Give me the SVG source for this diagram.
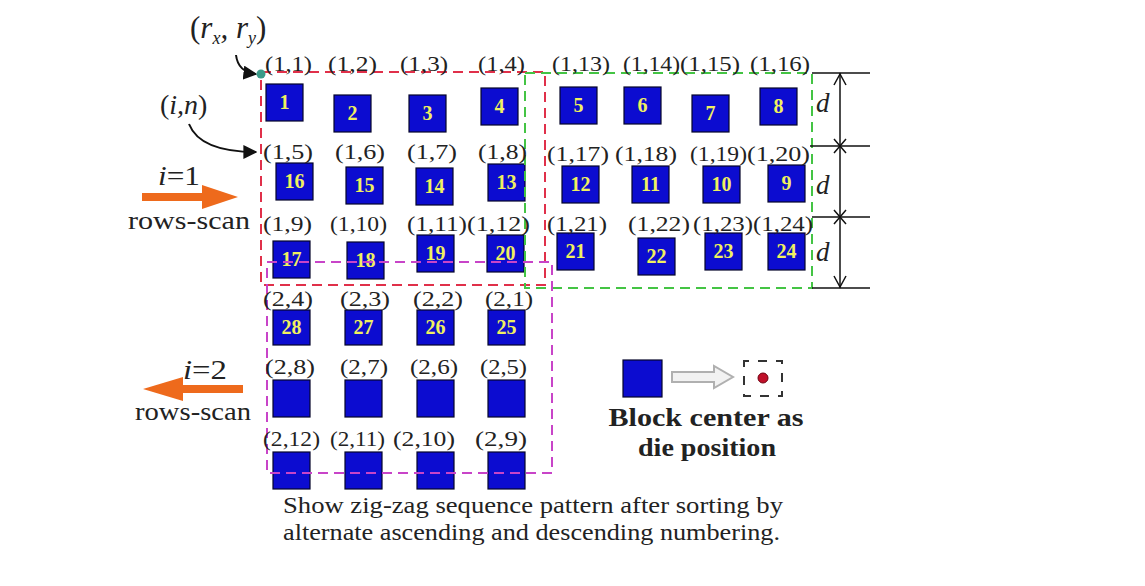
<svg xmlns="http://www.w3.org/2000/svg" width="1145" height="586" viewBox="0 0 1145 586">
<style>
.blk{fill:#0c0cd0;stroke:#05052a;stroke-width:1.2}
.num{font-family:"Liberation Serif",serif;font-weight:bold;font-size:20px;fill:#f0f060;text-anchor:middle}
.lab{font-family:"Liberation Serif",serif;font-size:22px;fill:#222}
.it{font-family:"Liberation Serif",serif;font-style:italic;fill:#222}
.txt{font-family:"Liberation Serif",serif;fill:#222}
.dim{stroke:#111;stroke-width:1.5;fill:none}
.box{fill:none;stroke-width:2;stroke-dasharray:10,6}
</style>
<defs>
<marker id="ah" viewBox="0 0 10 10" refX="9" refY="5" markerWidth="7" markerHeight="7" orient="auto">
<path d="M0,0 L10,5 L0,10 z" fill="#111"/>
</marker>
</defs>
<rect width="1145" height="586" fill="#ffffff"/>

<g id="blocks">
<g id="b1"><rect class="blk" x="266" y="84" width="37" height="37"/><text class="num" x="284.5" y="109">1</text></g>
<g id="b2"><rect class="blk" x="334" y="95" width="37" height="37"/><text class="num" x="352.5" y="120">2</text></g>
<g id="b3"><rect class="blk" x="409" y="95" width="37" height="37"/><text class="num" x="427.5" y="120">3</text></g>
<g id="b4"><rect class="blk" x="481" y="88" width="37" height="37"/><text class="num" x="499.5" y="113">4</text></g>
<g id="b5"><rect class="blk" x="560" y="87" width="37" height="37"/><text class="num" x="578.5" y="112">5</text></g>
<g id="b6"><rect class="blk" x="624" y="87" width="37" height="37"/><text class="num" x="642.5" y="112">6</text></g>
<g id="b7"><rect class="blk" x="692" y="95" width="37" height="37"/><text class="num" x="710.5" y="120">7</text></g>
<g id="b8"><rect class="blk" x="760" y="88" width="37" height="37"/><text class="num" x="778.5" y="113">8</text></g>

<g id="b16"><rect class="blk" x="276" y="163" width="37" height="37"/><text class="num" x="294.5" y="188">16</text></g>
<g id="b15"><rect class="blk" x="346" y="167" width="37" height="37"/><text class="num" x="364.5" y="192">15</text></g>
<g id="b14"><rect class="blk" x="416" y="168" width="37" height="37"/><text class="num" x="434.5" y="193">14</text></g>
<g id="b13"><rect class="blk" x="488" y="164" width="37" height="37"/><text class="num" x="506.5" y="189">13</text></g>
<g id="b12"><rect class="blk" x="562" y="166" width="37" height="37"/><text class="num" x="580.5" y="191">12</text></g>
<g id="b11"><rect class="blk" x="632" y="166" width="37" height="37"/><text class="num" x="650.5" y="191">11</text></g>
<g id="b10"><rect class="blk" x="703" y="166" width="37" height="37"/><text class="num" x="721.5" y="191">10</text></g>
<g id="b9"><rect class="blk" x="768" y="165" width="37" height="37"/><text class="num" x="786.5" y="190">9</text></g>

<g id="b17"><rect class="blk" x="273" y="241" width="37" height="37"/><text class="num" x="291.5" y="266">17</text></g>
<g id="b18"><rect class="blk" x="347" y="242" width="37" height="37"/><text class="num" x="365.5" y="267">18</text></g>
<g id="b19"><rect class="blk" x="417" y="235" width="37" height="37"/><text class="num" x="435.5" y="260">19</text></g>
<g id="b20"><rect class="blk" x="487" y="235" width="37" height="37"/><text class="num" x="505.5" y="260">20</text></g>
<g id="b21"><rect class="blk" x="557" y="233" width="37" height="37"/><text class="num" x="575.5" y="258">21</text></g>
<g id="b22"><rect class="blk" x="638" y="238" width="37" height="37"/><text class="num" x="656.5" y="263">22</text></g>
<g id="b23"><rect class="blk" x="705" y="233" width="37" height="37"/><text class="num" x="723.5" y="258">23</text></g>
<g id="b24"><rect class="blk" x="768" y="233" width="37" height="37"/><text class="num" x="786.5" y="258">24</text></g>

<g id="b28"><rect class="blk" x="273" y="310" width="37" height="35"/><text class="num" x="291.5" y="334">28</text></g>
<g id="b27"><rect class="blk" x="345" y="310" width="37" height="35"/><text class="num" x="363.5" y="334">27</text></g>
<g id="b26"><rect class="blk" x="417" y="310" width="37" height="35"/><text class="num" x="435.5" y="334">26</text></g>
<g id="b25"><rect class="blk" x="488" y="310" width="37" height="35"/><text class="num" x="506.5" y="334">25</text></g>

<g id="b29"><rect class="blk" x="273" y="380" width="37" height="37"/></g>
<g id="b30"><rect class="blk" x="345" y="380" width="37" height="37"/></g>
<g id="b31"><rect class="blk" x="417" y="380" width="37" height="37"/></g>
<g id="b32"><rect class="blk" x="488" y="380" width="37" height="37"/></g>

<g id="b33"><rect class="blk" x="273" y="452" width="37" height="37"/></g>
<g id="b34"><rect class="blk" x="345" y="452" width="37" height="37"/></g>
<g id="b35"><rect class="blk" x="417" y="452" width="37" height="37"/></g>
<g id="b36"><rect class="blk" x="488" y="452" width="37" height="37"/></g>
</g>

<g id="regions">
<rect class="box" x="261" y="72" width="284" height="213" stroke="#e0304a"/>
<rect class="box" x="525" y="73" width="287" height="215" stroke="#44c444"/>
<rect class="box" x="267" y="262" width="285" height="211" stroke="#c844c8"/>
</g>

<g id="labels">
<text class="lab" x="265" y="71" textLength="47" lengthAdjust="spacingAndGlyphs">(1,1)</text>
<text class="lab" x="328" y="71" textLength="49" lengthAdjust="spacingAndGlyphs">(1,2)</text>
<text class="lab" x="400" y="71" textLength="48" lengthAdjust="spacingAndGlyphs">(1,3)</text>
<text class="lab" x="478" y="71" textLength="47" lengthAdjust="spacingAndGlyphs">(1,4)</text>
<text class="lab" x="552" y="71" textLength="58" lengthAdjust="spacingAndGlyphs">(1,13)</text>
<text class="lab" x="623" y="71" textLength="57" lengthAdjust="spacingAndGlyphs">(1,14)</text>
<text class="lab" x="680" y="71" textLength="60" lengthAdjust="spacingAndGlyphs">(1,15)</text>
<text class="lab" x="750" y="71" textLength="60" lengthAdjust="spacingAndGlyphs">(1,16)</text>

<text class="lab" x="263" y="159" textLength="50" lengthAdjust="spacingAndGlyphs">(1,5)</text>
<text class="lab" x="335" y="159" textLength="50" lengthAdjust="spacingAndGlyphs">(1,6)</text>
<text class="lab" x="407" y="159" textLength="50" lengthAdjust="spacingAndGlyphs">(1,7)</text>
<text class="lab" x="478" y="159" textLength="49" lengthAdjust="spacingAndGlyphs">(1,8)</text>
<text class="lab" x="547" y="161" textLength="62" lengthAdjust="spacingAndGlyphs">(1,17)</text>
<text class="lab" x="615" y="161" textLength="62" lengthAdjust="spacingAndGlyphs">(1,18)</text>
<text class="lab" x="690" y="161" textLength="57" lengthAdjust="spacingAndGlyphs">(1,19)</text>
<text class="lab" x="747" y="161" textLength="63" lengthAdjust="spacingAndGlyphs">(1,20)</text>

<text class="lab" x="263" y="231" textLength="49" lengthAdjust="spacingAndGlyphs">(1,9)</text>
<text class="lab" x="330" y="231" textLength="57" lengthAdjust="spacingAndGlyphs">(1,10)</text>
<text class="lab" x="407" y="231" textLength="60" lengthAdjust="spacingAndGlyphs">(1,11)</text>
<text class="lab" x="467" y="231" textLength="63" lengthAdjust="spacingAndGlyphs">(1,12)</text>
<text class="lab" x="547" y="231" textLength="60" lengthAdjust="spacingAndGlyphs">(1,21)</text>
<text class="lab" x="628" y="231" textLength="62" lengthAdjust="spacingAndGlyphs">(1,22)</text>
<text class="lab" x="693" y="231" textLength="60" lengthAdjust="spacingAndGlyphs">(1,23)</text>
<text class="lab" x="753" y="231" textLength="60" lengthAdjust="spacingAndGlyphs">(1,24)</text>

<text class="lab" x="263" y="306" textLength="50" lengthAdjust="spacingAndGlyphs">(2,4)</text>
<text class="lab" x="340" y="306" textLength="50" lengthAdjust="spacingAndGlyphs">(2,3)</text>
<text class="lab" x="413" y="306" textLength="50" lengthAdjust="spacingAndGlyphs">(2,2)</text>
<text class="lab" x="485" y="306" textLength="48" lengthAdjust="spacingAndGlyphs">(2,1)</text>

<text class="lab" x="265" y="374" textLength="50" lengthAdjust="spacingAndGlyphs">(2,8)</text>
<text class="lab" x="340" y="374" textLength="48" lengthAdjust="spacingAndGlyphs">(2,7)</text>
<text class="lab" x="410" y="374" textLength="48" lengthAdjust="spacingAndGlyphs">(2,6)</text>
<text class="lab" x="480" y="374" textLength="47" lengthAdjust="spacingAndGlyphs">(2,5)</text>

<text class="lab" x="263" y="446" textLength="57" lengthAdjust="spacingAndGlyphs">(2,12)</text>
<text class="lab" x="330" y="446" textLength="55" lengthAdjust="spacingAndGlyphs">(2,11)</text>
<text class="lab" x="393" y="446" textLength="62" lengthAdjust="spacingAndGlyphs">(2,10)</text>
<text class="lab" x="475" y="446" textLength="52" lengthAdjust="spacingAndGlyphs">(2,9)</text>
</g>

<g id="dimension">
<line class="dim" x1="812" y1="73" x2="870" y2="73"/>
<line class="dim" x1="810" y1="146" x2="870" y2="146"/>
<line class="dim" x1="812" y1="217" x2="870" y2="217"/>
<line class="dim" x1="812" y1="288" x2="870" y2="288"/>
<line class="dim" x1="840" y1="73" x2="840" y2="288"/>
<path class="dim" d="M834,85 L840,74 L846,85"/>
<path class="dim" d="M834,276 L840,287 L846,276"/>
<path class="dim" d="M834,139 L846,153 M846,139 L834,153"/>
<path class="dim" d="M834,210 L846,224 M846,210 L834,224"/>
<text class="it" x="816" y="112" font-size="27">d</text>
<text class="it" x="816" y="194" font-size="27">d</text>
<text class="it" x="816" y="261" font-size="27">d</text>
</g>

<g id="connectors">
<path d="M236,55 Q238,72 256,74" fill="none" stroke="#111" stroke-width="2" marker-end="url(#ah)"/>
<path d="M189,124 Q200,152 256,152" fill="none" stroke="#111" stroke-width="2" marker-end="url(#ah)"/>
<path d="M142,197 L205,197" stroke="#ee6a1c" stroke-width="8"/>
<polygon points="202,185 238,197 202,209" fill="#ee6a1c"/>
<path d="M243,389 L180,389" stroke="#ee6a1c" stroke-width="8"/>
<polygon points="183,377 143,389 183,401" fill="#ee6a1c"/>
</g>

<g id="origin">
<circle cx="261" cy="74" r="4.5" fill="#3a9a88"/>
<text class="it" x="190" y="38" font-size="31"><tspan font-style="normal">(</tspan>r<tspan font-size="18" dy="6">x</tspan><tspan dy="-6">,</tspan> r<tspan font-size="18" dy="6">y</tspan><tspan font-style="normal" dy="-6">)</tspan></text>
<text class="it" x="160" y="114" font-size="28"><tspan font-style="normal">(</tspan>i,n<tspan font-style="normal">)</tspan></text>
</g>

<g id="scan1">
<text class="txt" x="158" y="185" font-size="27" textLength="42" lengthAdjust="spacingAndGlyphs"><tspan font-style="italic">i</tspan>=1</text>
<text class="txt" x="128" y="229" font-size="26" textLength="122" lengthAdjust="spacingAndGlyphs">rows-scan</text>
</g>
<g id="scan2">
<text class="txt" x="183" y="379" font-size="27" textLength="44" lengthAdjust="spacingAndGlyphs"><tspan font-style="italic">i</tspan>=2</text>
<text class="txt" x="135" y="420" font-size="26" textLength="116" lengthAdjust="spacingAndGlyphs">rows-scan</text>
</g>

<g id="legend">
<rect class="blk" x="623" y="360" width="39" height="37"/>
<path d="M672,372 L714,372 L714,366 L733,377 L714,388 L714,382 L672,382 Z" fill="#f2f2f2" stroke="#b0b0b0" stroke-width="2"/>
<rect x="744" y="361" width="38" height="35" fill="none" stroke="#333" stroke-width="2" stroke-dasharray="9,9" stroke-dashoffset="4"/>
<circle cx="763" cy="378" r="5" fill="#c0102a" stroke="#700010" stroke-width="1"/>
<text class="txt" x="706" y="426" font-size="26" font-weight="bold" text-anchor="middle" textLength="195" lengthAdjust="spacingAndGlyphs">Block center as</text>
<text class="txt" x="707" y="456" font-size="26" font-weight="bold" text-anchor="middle" textLength="138" lengthAdjust="spacingAndGlyphs">die position</text>
</g>

<g id="caption">
<text class="txt" x="283" y="513" font-size="24" textLength="500" lengthAdjust="spacingAndGlyphs">Show zig-zag sequence pattern after sorting by</text>
<text class="txt" x="283" y="540" font-size="24" textLength="497" lengthAdjust="spacingAndGlyphs">alternate ascending and descending numbering.</text>
</g>
</svg>
